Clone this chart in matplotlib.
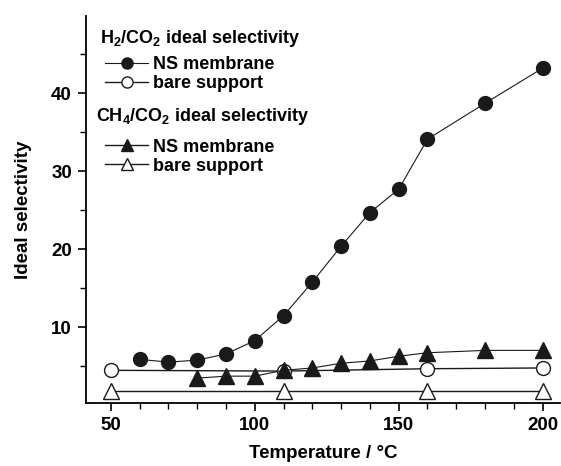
import matplotlib.pyplot as plt
from matplotlib.ticker import MultipleLocator
from matplotlib.lines import Line2D

plt.rcParams['font.family'] = ['Liberation Sans', 'DejaVu Sans']
plt.rcParams['font.weight'] = 'bold'
plt.rcParams['mathtext.fontset'] = 'custom'
plt.rcParams['mathtext.rm'] = 'Liberation Sans:bold'
plt.rcParams['mathtext.it'] = 'Liberation Sans:bold'
plt.rcParams['mathtext.bf'] = 'Liberation Sans:bold'

# H2/CO2 ideal selectivity
h2_ns_T = [60, 70, 80, 90, 100, 110, 120, 130, 140, 150, 160, 180, 200]
h2_ns_sel = [5.9, 5.55, 5.8, 6.6, 8.3, 11.5, 15.8, 20.4, 24.7, 27.7, 34.1, 38.7, 43.2]
h2_bare_T = [50, 110, 160, 200]
h2_bare_sel = [4.5, 4.4, 4.7, 4.8]

# CH4/CO2 ideal selectivity
ch4_ns_T = [80, 90, 100, 110, 120, 130, 140, 150, 160, 180, 200]
ch4_ns_sel = [3.5, 3.75, 3.75, 4.5, 4.8, 5.4, 5.7, 6.3, 6.75, 7.05, 7.05]
ch4_bare_T = [50, 110, 160, 200]
ch4_bare_sel = [1.9, 1.9, 1.9, 1.9]

fig = plt.figure(figsize=(5.61, 4.66), dpi=100)
ax = fig.add_axes([0.153, 0.135, 0.845, 0.831])

ms = 10
ax.plot(h2_ns_T, h2_ns_sel, '-', color='#1a1a1a', lw=0.8, marker='o', ms=ms,
        mfc='#1a1a1a', mec='#1a1a1a')
ax.plot(h2_bare_T, h2_bare_sel, '-', color='#1a1a1a', lw=1.0, marker='o', ms=ms,
        mfc='white', mec='#1a1a1a', mew=1.0)
ax.plot(ch4_ns_T, ch4_ns_sel, '-', color='#1a1a1a', lw=0.8, marker='^', ms=ms + 1,
        mfc='#1a1a1a', mec='#1a1a1a')
ax.plot(ch4_bare_T, ch4_bare_sel, '-', color='#1a1a1a', lw=1.0, marker='^', ms=ms + 1,
        mfc='white', mec='#1a1a1a', mew=1.0)

ax.set_xlim(41.3, 206)
ax.set_ylim(0.3, 49.9)
ax.spines['top'].set_visible(False)
ax.spines['right'].set_visible(False)
ax.spines['left'].set_linewidth(1.3)
ax.spines['bottom'].set_linewidth(1.3)

ax.xaxis.set_major_locator(MultipleLocator(50))
ax.xaxis.set_minor_locator(MultipleLocator(10))
ax.yaxis.set_major_locator(MultipleLocator(10))
ax.yaxis.set_minor_locator(MultipleLocator(5))
ax.tick_params(which='major', direction='out', length=6, width=1.2, labelsize=13.5, pad=4)
ax.tick_params(which='minor', direction='out', length=4, width=1.0)
ax.set_yticks([10, 20, 30, 40])

ax.set_xlabel('Temperature / °C', fontsize=13.5, fontweight='bold', labelpad=8)
ax.set_ylabel('Ideal selectivity', fontsize=13.5, fontweight='bold', labelpad=14)

fig.text(0.178, 0.918, r'H$_2$/CO$_2$ ideal selectivity', fontsize=13, fontweight='bold',
         va='center', ha='left')
fig.text(0.172, 0.750, r'CH$_4$/CO$_2$ ideal selectivity', fontsize=13, fontweight='bold',
         va='center', ha='left')

hs1 = [Line2D([], [], color='#1a1a1a', lw=0.8, marker='o', ms=8, mfc='#1a1a1a', mec='#1a1a1a'),
       Line2D([], [], color='#1a1a1a', lw=1.0, marker='o', ms=8, mfc='white', mec='#1a1a1a')]
hs2 = [Line2D([], [], color='#1a1a1a', lw=1.0, marker='^', ms=9, mfc='#1a1a1a', mec='#1a1a1a'),
       Line2D([], [], color='#1a1a1a', lw=1.0, marker='^', ms=9, mfc='white', mec='#1a1a1a')]

fig.legend(hs1, ['NS membrane', 'bare support'], loc='upper left',
           bbox_to_anchor=(0.171, 0.899), frameon=False, fontsize=13,
           handlelength=2.4, handletextpad=0.25, labelspacing=0.12, borderpad=0)
fig.legend(hs2, ['NS membrane', 'bare support'], loc='upper left',
           bbox_to_anchor=(0.171, 0.722), frameon=False, fontsize=13,
           handlelength=2.4, handletextpad=0.25, labelspacing=0.12, borderpad=0)

fig.savefig('out.png', dpi=100)
